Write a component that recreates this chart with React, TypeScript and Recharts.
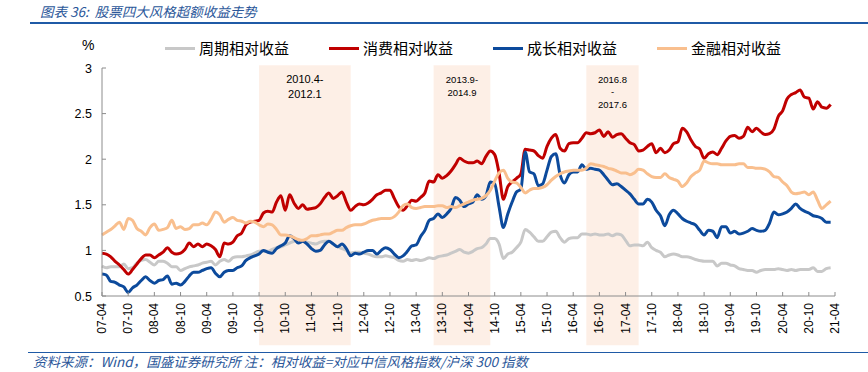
import React from 'react';
import { LineChart, Line, XAxis, YAxis, ReferenceArea } from 'recharts';

// ---------- categories (monthly, 2007-04 .. 2021-04) ----------
const START_YEAR = 2007;
const START_MONTH = 4;
const MONTH_COUNT = 169;
const months: string[] = [];
for (let i = 0; i < MONTH_COUNT; i++) {
  const t = START_MONTH - 1 + i;
  const yy = START_YEAR + Math.floor(t / 12);
  const mm = (t % 12) + 1;
  months.push(`${String(yy % 100).padStart(2, '0')}-${String(mm).padStart(2, '0')}`);
}

const yTicks = [0.5, 1, 1.5, 2, 2.5, 3];

// ---------- series values ----------
const cyclical = [
  0.83, 0.81, 0.82, 0.82, 0.82, 0.85, 0.80, 0.81, 0.86, 0.89,
  0.90, 0.87, 0.84, 0.88, 0.88, 0.86, 0.82, 0.82, 0.78, 0.80,
  0.82, 0.83, 0.84, 0.86, 0.87, 0.88, 0.84, 0.88, 0.90, 0.88,
  0.92, 0.93, 0.93, 0.94, 0.95, 0.97, 0.99, 0.99, 0.99, 1.01,
  1.03, 1.04, 1.06, 1.08, 1.10, 1.11, 1.10, 1.09, 1.08, 1.07,
  1.09, 1.10, 1.10, 1.07, 1.04, 1.02, 1.00, 0.97, 0.98, 0.98,
  0.97, 0.96, 0.94, 0.93, 0.93, 0.94, 0.93, 0.92, 0.89, 0.88,
  0.90, 0.89, 0.90, 0.89, 0.90, 0.92, 0.91, 0.93, 0.94, 0.95,
  0.97, 0.99, 1.01, 0.98, 0.97, 0.99, 1.02, 1.03, 1.07, 1.13,
  1.13, 1.07, 0.91, 0.96, 0.98, 1.03, 1.09, 1.23, 1.20, 1.15,
  1.10, 1.10, 1.15, 1.20, 1.21, 1.14, 1.09, 1.13, 1.14, 1.14,
  1.18, 1.18, 1.17, 1.18, 1.17, 1.17, 1.18, 1.16, 1.18, 1.17,
  1.11, 1.05, 1.06, 1.06, 1.05, 1.09, 1.03, 1.00, 0.98, 0.93,
  0.95, 0.96, 0.95, 0.93, 0.93, 0.92, 0.90, 0.89, 0.88, 0.88,
  0.88, 0.83, 0.86, 0.86, 0.84, 0.83, 0.80, 0.79, 0.78, 0.78,
  0.76, 0.78, 0.79, 0.79, 0.79, 0.80, 0.79, 0.78, 0.79, 0.78,
  0.79, 0.79, 0.79, 0.81, 0.77, 0.77, 0.80, 0.81,
];

const consumer = [
  0.97, 0.96, 0.93, 0.88, 0.84, 0.79, 0.74, 0.79, 0.85, 0.91,
  0.95, 0.95, 0.92, 0.95, 0.98, 1.03, 0.98, 0.96, 0.97, 1.01,
  1.08, 1.04, 1.07, 1.04, 1.07, 1.05, 1.01, 0.93, 1.08, 1.07,
  1.09, 1.16, 1.19, 1.28, 1.31, 1.32, 1.33, 1.41, 1.43, 1.42,
  1.53, 1.60, 1.44, 1.61, 1.52, 1.46, 1.50, 1.45, 1.46, 1.47,
  1.51, 1.58, 1.63, 1.57, 1.60, 1.64, 1.53, 1.44, 1.48, 1.51,
  1.50, 1.52, 1.56, 1.61, 1.63, 1.66, 1.66, 1.57, 1.48, 1.44,
  1.49, 1.55, 1.54, 1.58, 1.63, 1.76, 1.75, 1.83, 1.79, 1.82,
  1.87, 1.94, 2.01, 1.98, 1.96, 1.96, 1.98, 1.95, 2.03, 2.09,
  2.05, 1.85, 1.56, 1.70, 1.75, 1.79, 1.84, 2.11, 2.10, 2.09,
  2.04, 2.01, 2.14, 2.23, 2.27, 2.12, 2.09, 2.17, 2.18, 2.18,
  2.23, 2.29, 2.28, 2.29, 2.32, 2.25, 2.30, 2.24, 2.27, 2.28,
  2.23, 2.18, 2.16, 2.09, 2.10, 2.14, 2.17, 2.07, 2.12, 2.07,
  2.10, 2.17, 2.19, 2.34, 2.30, 2.21, 2.14, 2.11, 2.01, 2.06,
  2.08, 2.05, 2.12, 2.20, 2.25, 2.26, 2.23, 2.25, 2.35, 2.30,
  2.34, 2.30, 2.27, 2.28, 2.33, 2.47, 2.53, 2.66, 2.71, 2.73,
  2.76, 2.68, 2.67, 2.55, 2.63, 2.57, 2.56, 2.60,
];

const growth = [
  0.74, 0.73, 0.66, 0.65, 0.62, 0.60, 0.54, 0.59, 0.62, 0.67,
  0.71, 0.67, 0.64, 0.67, 0.68, 0.72, 0.63, 0.64, 0.62, 0.66,
  0.72, 0.76, 0.76, 0.78, 0.80, 0.81, 0.75, 0.71, 0.76, 0.78,
  0.78, 0.81, 0.83, 0.89, 0.92, 0.94, 0.96, 1.00, 0.98, 0.97,
  1.02, 1.05, 1.08, 1.16, 1.13, 1.08, 1.10, 1.07, 1.02, 0.99,
  1.00, 1.06, 1.10, 1.07, 1.04, 1.07, 1.02, 0.94, 0.97, 0.96,
  0.98, 1.00, 1.00, 0.96, 1.00, 1.03, 1.01, 0.96, 0.92, 0.94,
  0.99, 1.05, 1.06, 1.15, 1.22, 1.33, 1.35, 1.40, 1.36, 1.40,
  1.46, 1.58, 1.55, 1.48, 1.51, 1.53, 1.61, 1.56, 1.60, 1.75,
  1.73, 1.48, 1.25, 1.40, 1.53, 1.64, 1.67, 2.08, 1.86, 1.84,
  1.71, 1.73, 1.88, 2.03, 2.06, 1.83, 1.74, 1.83, 1.86, 1.86,
  1.94, 1.89, 1.90, 1.89, 1.88, 1.83, 1.77, 1.72, 1.73, 1.70,
  1.66, 1.62, 1.56, 1.51, 1.51, 1.56, 1.53, 1.44, 1.38, 1.27,
  1.39, 1.44, 1.40, 1.35, 1.32, 1.30, 1.28, 1.22, 1.17, 1.22,
  1.21, 1.14, 1.26, 1.26, 1.19, 1.21, 1.18, 1.19, 1.21, 1.24,
  1.22, 1.21, 1.22, 1.30, 1.42, 1.39, 1.40, 1.42, 1.46, 1.51,
  1.46, 1.43, 1.41, 1.38, 1.37, 1.35, 1.31, 1.31,
];

const financial = [
  1.17, 1.20, 1.23, 1.27, 1.31, 1.23, 1.35, 1.33, 1.24, 1.21,
  1.17, 1.25, 1.29, 1.22, 1.23, 1.25, 1.33, 1.24, 1.26, 1.23,
  1.24, 1.28, 1.28, 1.30, 1.28, 1.34, 1.42, 1.39, 1.31, 1.34,
  1.36, 1.33, 1.32, 1.30, 1.32, 1.31, 1.28, 1.26, 1.29, 1.28,
  1.23, 1.17, 1.17, 1.16, 1.14, 1.12, 1.11, 1.13, 1.16, 1.16,
  1.17, 1.18, 1.18, 1.20, 1.22, 1.22, 1.25, 1.27, 1.28, 1.28,
  1.29, 1.31, 1.33, 1.34, 1.35, 1.35, 1.35, 1.37, 1.42, 1.49,
  1.51, 1.47, 1.46, 1.47, 1.48, 1.48, 1.48, 1.49, 1.49, 1.47,
  1.48, 1.47, 1.49, 1.51, 1.53, 1.55, 1.56, 1.57, 1.60, 1.66,
  1.76, 1.85, 1.88, 1.79, 1.75, 1.74, 1.69, 1.63, 1.66, 1.68,
  1.68, 1.69, 1.72, 1.77, 1.81, 1.84, 1.86, 1.87, 1.88, 1.88,
  1.88, 1.90, 1.95, 1.94, 1.93, 1.92, 1.90, 1.89, 1.87, 1.85,
  1.85, 1.83, 1.85, 1.89, 1.88, 1.84, 1.81, 1.80, 1.80, 1.84,
  1.80, 1.78, 1.76, 1.70, 1.74, 1.81, 1.85, 1.88, 1.98, 1.96,
  1.95, 1.95, 1.94, 1.94, 1.94, 1.94, 1.95, 1.95, 1.91, 1.91,
  1.90, 1.90, 1.89, 1.86, 1.81, 1.80, 1.75, 1.71, 1.64, 1.62,
  1.63, 1.64, 1.61, 1.64, 1.55, 1.46, 1.50, 1.54,
];

const seriesKeys = ['cyc', 'con', 'gro', 'fin'];
const seriesNames = ['周期相对收益', '消费相对收益', '成长相对收益', '金融相对收益'];
const seriesValues = [cyclical, consumer, growth, financial];
const seriesColors = ['#C8C8C8', '#C00000', '#0C4A9C', '#F9BF8E'];

// ---------- shaded periods ----------
const periodStart = ['10-04', '13-08', '16-07'];
const periodEnd = ['12-01', '14-09', '17-07'];
const periodLabels = [['2010.4-', '2012.1'], ['2013.9-', '2014.9'], ['2016.8', '-', '2017.6']];

const titleText = '图表 36:  股票四大风格超额收益走势';
const sourceText = '资料来源：Wind，国盛证券研究所 注：相对收益=对应中信风格指数/沪深 300 指数';
const unitText = '%';

// ---------- table built from the arrays ----------
const data = months.map((m, i) => {
  const row: any = { month: m };
  seriesKeys.forEach((k, s) => {
    const v = seriesValues[s][i];
    row[k] = v === undefined ? null : v;
  });
  return row;
});

// ---------- styles ----------
const W = 868;
const H = 372;
const AXIS_COLOR = '#8C8C8C';
const NUM_FONT = '"Liberation Sans", Arial, sans-serif';
const CJK_FONT = '"Noto Sans CJK SC", "Noto Sans", sans-serif';
const BLUE_TEXT = '#2B579A';
const RULE_BLUE = '#1F5AA6';
const labelFontSizes = [11, 9.5, 9.5];
const labelLineHeights = [14.5, 13.5, 12.5];

const XTick = (props: any) => {
  const { x, y, payload } = props;
  const tx = x + 4;
  const ty = y + 7;
  return (
    <g>
      <line x1={x} y1={y} x2={x} y2={y - 4} stroke={AXIS_COLOR} strokeWidth={1} />
      <text
        x={tx}
        y={ty}
        transform={`rotate(-90 ${tx} ${ty})`}
        textAnchor="end"
        fontSize={12}
        fontFamily={NUM_FONT}
        fill="#000"
      >
        {payload.value}
      </text>
    </g>
  );
};

const YTick = (props: any) => {
  const { x, y, payload } = props;
  return (
    <g>
      <line x1={x} y1={y} x2={x + 4} y2={y} stroke={AXIS_COLOR} strokeWidth={1} />
      <text x={x - 10} y={y} dy="0.36em" textAnchor="end" fontSize={12.5} fontFamily={NUM_FONT} fill="#000">
        {payload.value}
      </text>
    </g>
  );
};

const makePeriodShape = (idx: number) => (props: any) => {
  const { x, y, width, height } = props;
  const cx = x + width / 2;
  const lines = periodLabels[idx];
  return (
    <g>
      <rect x={x} y={y} width={width} height={height} fill="#F4B183" fillOpacity={0.2} stroke="none" />
      {lines.map((t, i) => (
        <text
          key={i}
          x={cx}
          y={y + 14 + i * labelLineHeights[idx]}
          dy="0.35em"
          textAnchor="middle"
          fontSize={labelFontSizes[idx]}
          fontFamily={NUM_FONT}
          fill="#000"
        >
          {t}
        </text>
      ))}
    </g>
  );
};

export default function App() {
  return (
    <div
      style={{
        position: 'absolute',
        left: 0,
        top: 0,
        width: W,
        height: H,
        background: '#fff',
        overflow: 'hidden',
        fontFamily: CJK_FONT,
      }}
    >
      {/* title */}
      <div
        style={{
          position: 'absolute',
          left: 40,
          top: 3,
          fontSize: 13.5,
          lineHeight: '16px',
          fontStyle: 'italic',
          color: BLUE_TEXT,
          whiteSpace: 'pre',
        }}
      >
        {titleText}
      </div>
      <div style={{ position: 'absolute', left: 30, top: 22, width: W - 30, height: 1.5, background: RULE_BLUE }} />

      {/* unit */}
      <div
        style={{
          position: 'absolute',
          left: 82,
          top: 37,
          fontSize: 14,
          lineHeight: '16px',
          fontFamily: NUM_FONT,
          color: '#000',
        }}
      >
        {unitText}
      </div>

      {/* legend */}
      {seriesNames.map((name, i) => (
        <div
          key={name}
          style={{
            position: 'absolute',
            left: 165 + i * 164,
            top: 38,
            height: 20,
            display: 'flex',
            alignItems: 'center',
          }}
        >
          <div style={{ width: 30, height: 3, background: seriesColors[i], marginRight: 4 }} />
          <span style={{ fontSize: 15, lineHeight: '20px', color: '#000', whiteSpace: 'nowrap' }}>{name}</span>
        </div>
      ))}

      <div style={{ position: 'absolute', left: 0, top: 0 }}>
        <LineChart width={W} height={H} data={data} margin={{ top: 68, right: 33, bottom: 0, left: 62 }}>
          {periodStart.map((s, i) => (
            <ReferenceArea
              key={s}
              x1={s}
              x2={periodEnd[i]}
              y1={-0.04}
              y2={3.03}
              ifOverflow="visible"
              shape={makePeriodShape(i)}
            />
          ))}
          <XAxis
            dataKey="month"
            type="category"
            scale="point"
            interval={5}
            height={76}
            tickSize={0}
            tickMargin={0}
            tickLine={false}
            axisLine={{ stroke: AXIS_COLOR, strokeWidth: 1 }}
            tick={<XTick />}
            padding={{ left: 0, right: 0 }}
          />
          <YAxis
            type="number"
            domain={[0.5, 3]}
            ticks={yTicks}
            width={40}
            tickSize={0}
            tickMargin={0}
            tickLine={false}
            axisLine={{ stroke: AXIS_COLOR, strokeWidth: 1 }}
            tick={<YTick />}
            allowDataOverflow
          />
          {seriesKeys.map((k, i) => (
            <Line
              key={k}
              dataKey={k}
              name={seriesNames[i]}
              type="monotone"
              stroke={seriesColors[i]}
              strokeWidth={3}
              dot={false}
              activeDot={false}
              isAnimationActive={false}
              connectNulls={false}
            />
          ))}
        </LineChart>
      </div>

      {/* footer */}
      <div style={{ position: 'absolute', left: 28, top: 351.5, width: W - 28, height: 1.5, background: RULE_BLUE }} />
      <div
        style={{
          position: 'absolute',
          left: 33,
          top: 353,
          fontSize: 13.5,
          lineHeight: '16px',
          fontStyle: 'italic',
          color: BLUE_TEXT,
          whiteSpace: 'pre',
        }}
      >
        {sourceText}
      </div>
    </div>
  );
}
